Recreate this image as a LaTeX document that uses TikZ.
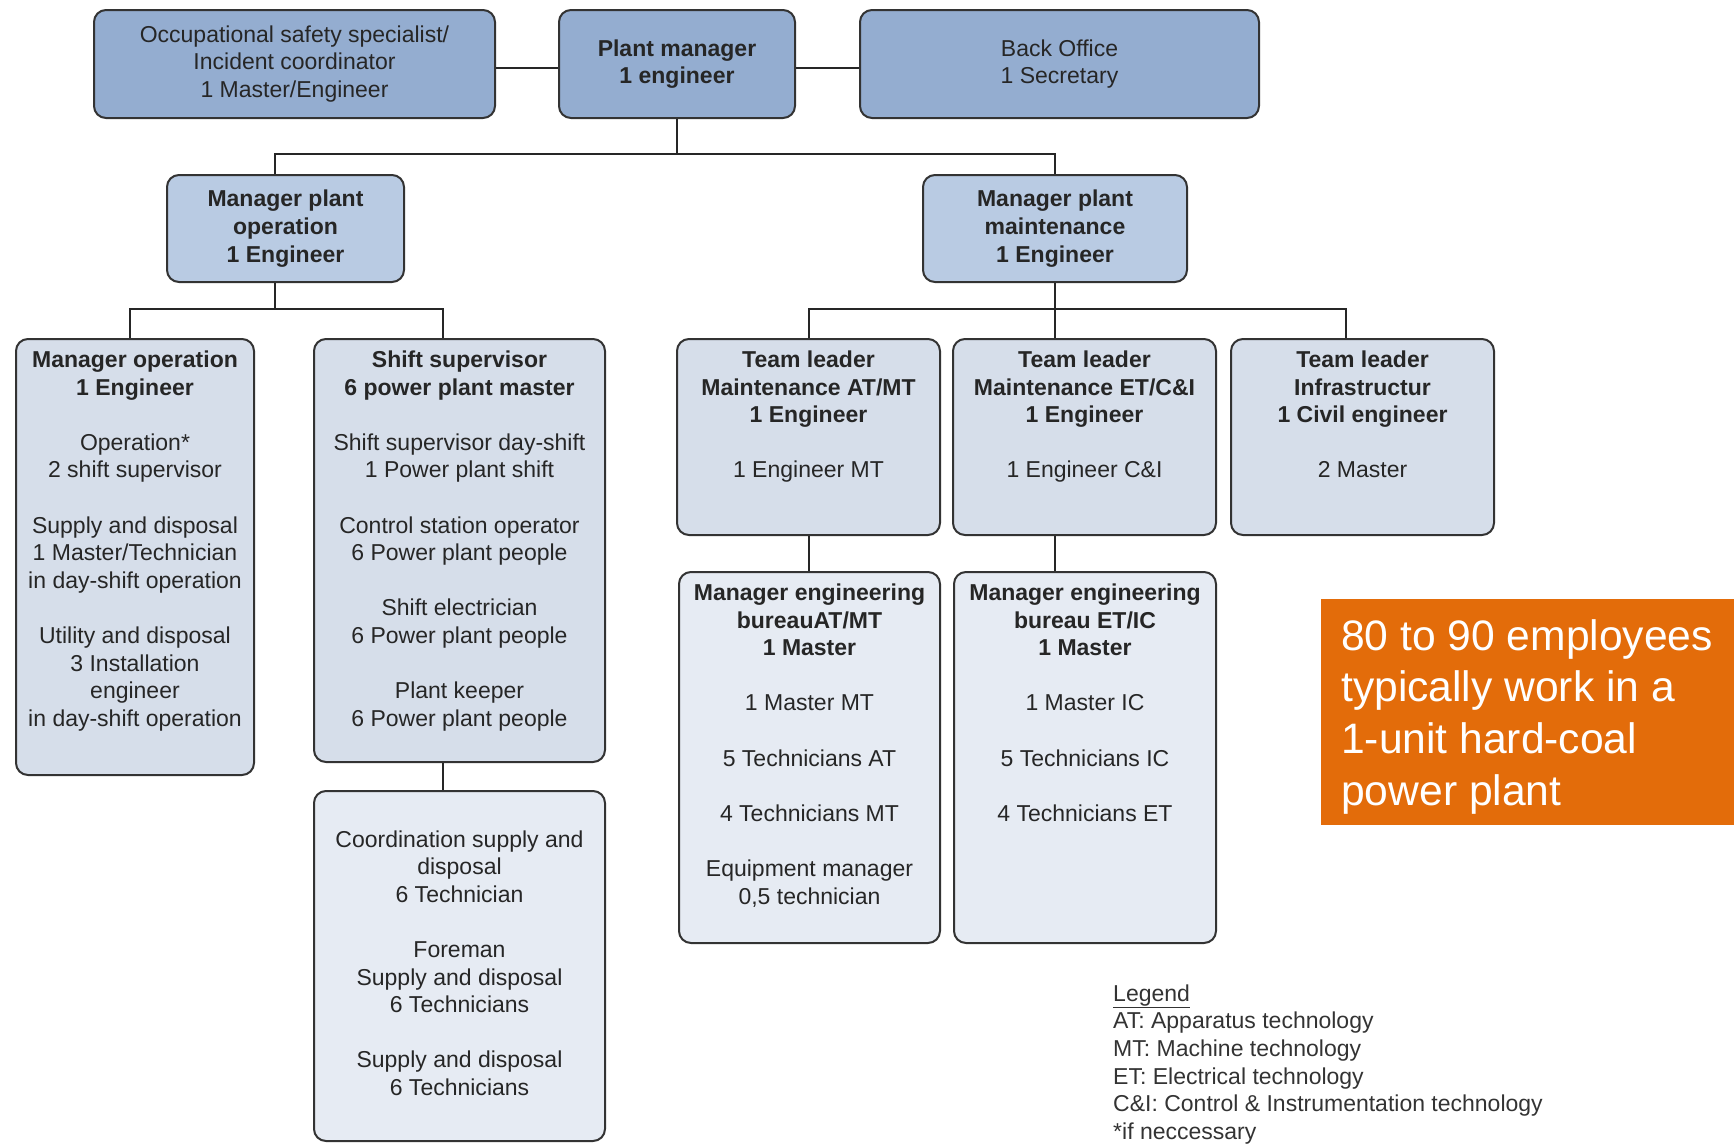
\documentclass[tikz,border=0pt]{standalone}
\usepackage{fontspec}
\setmainfont{Liberation Sans}
\definecolor{lvA}{HTML}{94ADD0}
\definecolor{lvB}{HTML}{B9CBE3}
\definecolor{lvC}{HTML}{D6DEEA}
\definecolor{lvD}{HTML}{E6EBF3}
\definecolor{edge}{HTML}{333333}
\definecolor{ink}{HTML}{262626}
\definecolor{legendink}{HTML}{333333}
\definecolor{note}{HTML}{E36C0A}
\newcommand\chartsize{\fontsize{23}{27.6}\selectfont}
% top-aligned box content: width, height, lines
\newcommand\cbox[4][28.5pt]{\parbox[c][#3][t]{#2}{\chartsize\centering\rule{0pt}{#1}#4}}
\newcommand\gapline{\\[27.6pt]}
\begin{document}
\begin{tikzpicture}[x=1pt,y=-1pt,
  box/.style={draw=edge, line width=2pt, rounded corners=12pt, text=ink, inner sep=0pt, anchor=north west},
  lvone/.style={box, fill=lvA, align=center, font=\chartsize},
  lvtwo/.style={box, fill=lvB, align=center, font=\chartsize\bfseries},
  lvthree/.style={box, fill=lvC},
  lvfour/.style={box, fill=lvD},
  conn/.style={draw=black!85, line width=2pt}]
\useasboundingbox (0,0) rectangle (1734,1143);

% top row
\node[lvone, minimum width=401pt, minimum height=108pt] (occ) at (93,9)
  {Occupational safety specialist/\\Incident coordinator\\1 Master/Engineer};
\node[lvone, minimum width=236pt, minimum height=108pt, font=\chartsize\bfseries] (pm) at (558,9)
  {Plant manager\\1 engineer};
\node[lvone, minimum width=399pt, minimum height=108pt] (bo) at (859,9)
  {Back Office\\1 Secretary};

% second row
\node[lvtwo, minimum width=237pt, minimum height=107pt] (mpo) at (166,174)
  {Manager plant\\operation\\1 Engineer};
\node[lvtwo, minimum width=264pt, minimum height=107pt] (mpm) at (922,174)
  {Manager plant\\maintenance\\1 Engineer};

% operation branch
\node[lvthree] (mo) at (15,338) {\cbox{238pt}{436pt}{%
  {\bfseries Manager operation\\1 Engineer}\gapline
  Operation*\\2 shift supervisor\gapline
  Supply and disposal\\1 Master/Technician\\in day-shift operation\gapline
  Utility and disposal\\3 Installation\\engineer\\in day-shift operation}};
\node[lvthree] (ss) at (313,338) {\cbox{291pt}{423pt}{%
  {\bfseries Shift supervisor\\6 power plant master}\gapline
  Shift supervisor day-shift\\1 Power plant shift\gapline
  Control station operator\\6 Power plant people\gapline
  Shift electrician\\6 Power plant people\gapline
  Plant keeper\\6 Power plant people}};
\node[lvfour] (coord) at (313,790) {\cbox[56pt]{291pt}{350pt}{%
  Coordination supply and\\disposal\\6 Technician\gapline
  Foreman\\Supply and disposal\\6 Technicians\gapline
  Supply and disposal\\6 Technicians}};

% maintenance branch
\node[lvthree] (tam) at (676,338) {\cbox{263pt}{196pt}{%
  {\bfseries Team leader\\Maintenance AT/MT\\1 Engineer}\gapline
  1 Engineer MT}};
\node[lvthree] (tec) at (952,338) {\cbox{263pt}{196pt}{%
  {\bfseries Team leader\\Maintenance ET/C\&I\\1 Engineer}\gapline
  1 Engineer C\&I}};
\node[lvthree] (tin) at (1230,338) {\cbox{263pt}{196pt}{%
  {\bfseries Team leader\\Infrastructur\\1 Civil engineer}\gapline
  2 Master}};
\node[lvfour] (mea) at (678,571) {\cbox{261pt}{371pt}{%
  {\bfseries Manager engineering\\bureauAT/MT\\1 Master}\gapline
  1 Master MT\gapline
  5 Technicians AT\gapline
  4 Technicians MT\gapline
  Equipment manager\\0,5 technician}};
\node[lvfour] (mee) at (953,571) {\cbox{262pt}{371pt}{%
  {\bfseries Manager engineering\\bureau ET/IC\\1 Master}\gapline
  1 Master IC\gapline
  5 Technicians IC\gapline
  4 Technicians ET}};

% junctions and branch columns
\coordinate (j1) at (677,154);
\coordinate (j2) at (275,309);
\coordinate (j3) at (1055,309);
\coordinate (xop) at (275,0);
\coordinate (xmt) at (1055,0);
\coordinate (xmo) at (130,0);
\coordinate (xss) at (443,0);
\coordinate (xat) at (809,0);
\coordinate (xin) at (1346,0);

% connectors
\draw[conn] ([yshift=-4pt]occ.east) -- ([yshift=-4pt]pm.west);
\draw[conn] ([yshift=-4pt]pm.east) -- ([yshift=-4pt]bo.west);
\draw[conn] (pm.south -| j1) -- (j1);
\draw[conn] (mpo.north -| xop) |- (j1) -| (mpm.north -| xmt);
\draw[conn] (mpo.south -| xop) -- (j2);
\draw[conn] (mo.north -| xmo) |- (j2) -| (ss.north -| xss);
\draw[conn] (ss.south -| xss) -- (coord.north -| xss);
\draw[conn] (mpm.south -| xmt) -- (j3);
\draw[conn] (tam.north -| xat) |- (j3) -| (tin.north -| xin);
\draw[conn] (tec.north -| xmt) -- (j3);
\draw[conn] (tam.south -| xat) -- (mea.north -| xat);
\draw[conn] (tec.south -| xmt) -- (mee.north -| xmt);

% headcount note
\node[fill=note, text=white, inner sep=0pt, anchor=north west] (note) at (1321,599)
  {\parbox[c][226pt][t]{413pt}{\fontsize{42.6}{51.7}\selectfont\raggedright\leftskip=20pt
   \rule{0pt}{51pt}80 to 90 employees\\typically work in a\\1-unit hard-coal\\power plant}};

% legend
\node[inner sep=0pt, anchor=north west, text=legendink] (legend) at (1113,980)
  {\parbox[t]{520pt}{\chartsize\raggedright\rule{0pt}{21pt}\underline{Legend}\\
   AT: Apparatus technology\\MT: Machine technology\\ET: Electrical technology\\
   C\&I: Control \& Instrumentation technology\\{*}if neccessary}};
\end{tikzpicture}
\end{document}
